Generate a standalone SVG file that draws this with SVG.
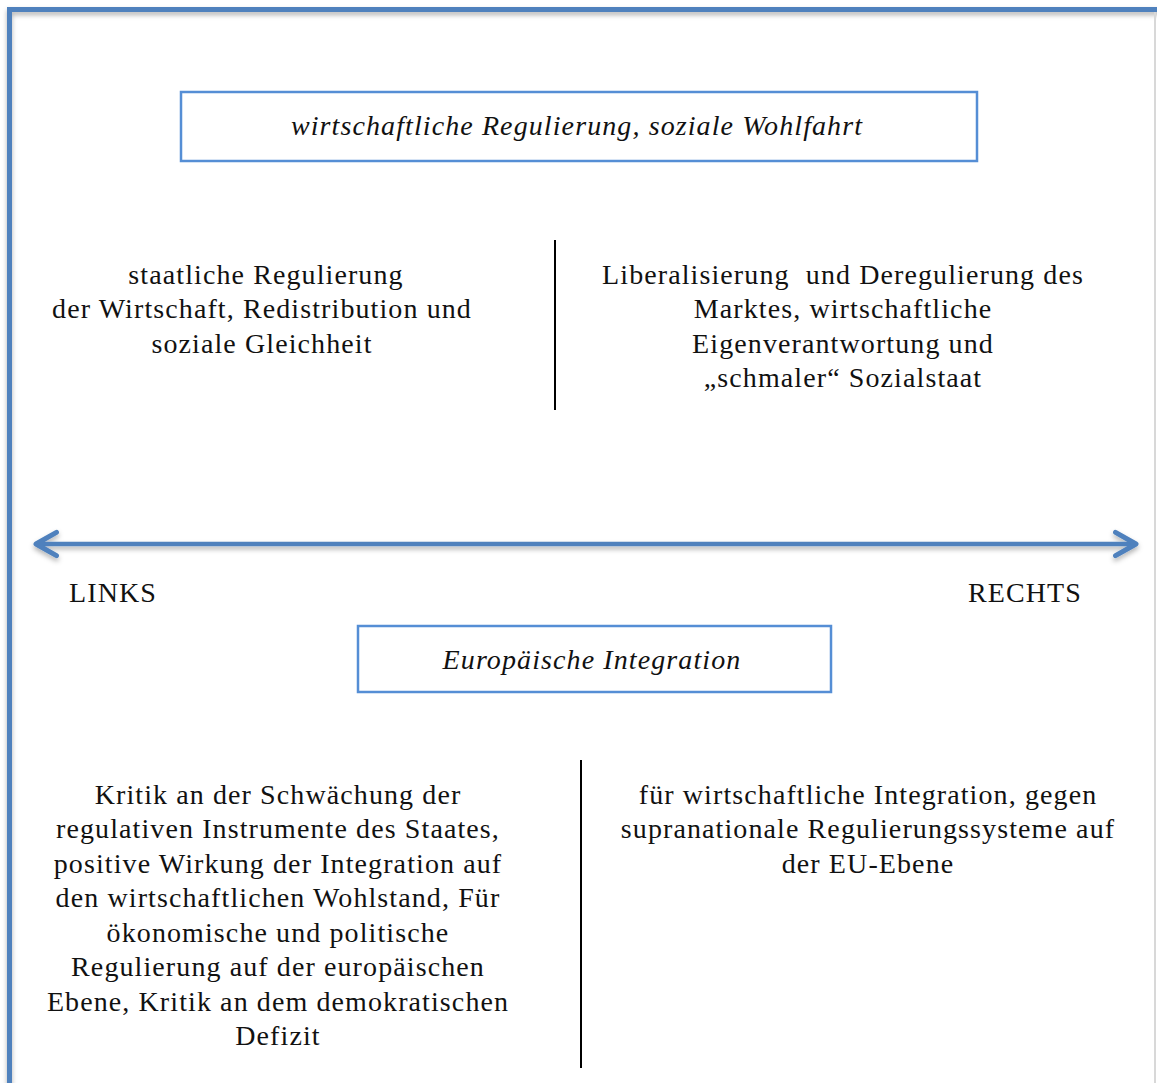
<svg xmlns="http://www.w3.org/2000/svg" width="1157" height="1083" viewBox="0 0 1157 1083">
<style>
.t{font-family:"Liberation Serif","DejaVu Serif",serif;font-size:28px;letter-spacing:1.1px;fill:#111;text-anchor:middle}
.i{font-style:italic}
.pre{white-space:pre}
.box{fill:#fff;stroke:#558ED5;stroke-width:2.5}
.div{stroke:#000;stroke-width:2}
</style>
<defs>
<filter id="sh" filterUnits="userSpaceOnUse" x="0" y="0" width="1157" height="1083">
<feDropShadow dx="0" dy="3" stdDeviation="2.5" flood-color="#000" flood-opacity="0.3"/>
</filter>
<marker id="ah" viewBox="0 0 10 10" refX="8" refY="5" markerWidth="6.5" markerHeight="6.5" orient="auto-start-reverse" markerUnits="strokeWidth">
<path d="M1,1 L8,5 L1,9" fill="none" stroke="#4F81BD" stroke-width="1.7" stroke-linecap="round" stroke-linejoin="round"/>
</marker>
</defs>
<rect width="1157" height="1083" fill="#fff"/>
<rect id="frame" x="9.5" y="9.5" width="1170" height="1100" fill="none" stroke="#4F81BD" stroke-width="5" filter="url(#sh)"/>
<line x1="1155" y1="12" x2="1155" y2="1083" stroke="#d8d8d8" stroke-width="2"/>
<g id="n1"><rect class="box" x="181" y="92" width="796" height="69"/><text class="t i" x="577" y="135">wirtschaftliche Regulierung, soziale Wohlfahrt</text></g>
<g id="n2"><text class="t"><tspan x="266" y="284">staatliche Regulierung</tspan><tspan x="262" y="318">der Wirtschaft, Redistribution und</tspan><tspan x="262" y="353">soziale Gleichheit</tspan></text></g>
<g id="n3"><text class="t pre"><tspan x="843" y="284">Liberalisierung  und Deregulierung des</tspan><tspan x="843" y="318">Marktes, wirtschaftliche</tspan><tspan x="843" y="353">Eigenverantwortung und</tspan><tspan x="843" y="387">„schmaler“ Sozialstaat</tspan></text></g>
<g id="n4"><text class="t" x="113" y="602">LINKS</text></g>
<g id="n5"><text class="t" x="1025" y="602">RECHTS</text></g>
<g id="n6"><rect class="box" x="358" y="626" width="473" height="66"/><text class="t i" x="592" y="669">Europäische Integration</text></g>
<g id="n7"><text class="t"><tspan x="278" y="804">Kritik an der Schwächung der</tspan><tspan x="278" y="838">regulativen Instrumente des Staates,</tspan><tspan x="278" y="873">positive Wirkung der Integration auf</tspan><tspan x="278" y="907">den wirtschaftlichen Wohlstand, Für</tspan><tspan x="278" y="942">ökonomische und politische</tspan><tspan x="278" y="976">Regulierung auf der europäischen</tspan><tspan x="278" y="1011">Ebene, Kritik an dem demokratischen</tspan><tspan x="278" y="1045">Defizit</tspan></text></g>
<g id="n8"><text class="t"><tspan x="868" y="804">für wirtschaftliche Integration, gegen</tspan><tspan x="868" y="838">supranationale Regulierungssysteme auf</tspan><tspan x="868" y="873">der EU-Ebene</tspan></text></g>
<g id="connectors">
<line x1="36" y1="544" x2="1136" y2="544" stroke="#4F81BD" stroke-width="4.5" marker-start="url(#ah)" marker-end="url(#ah)" filter="url(#sh)"/>
<line class="div" x1="555" y1="240" x2="555" y2="410"/>
<line class="div" x1="581" y1="760" x2="581" y2="1068"/>
</g>
</svg>
